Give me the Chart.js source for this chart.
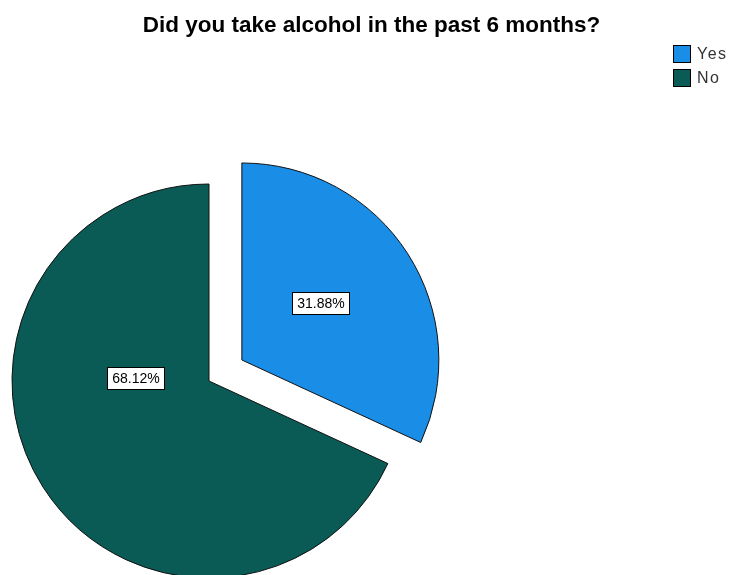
<!DOCTYPE html>
<html>
<head>
<meta charset="utf-8">
<title>Alcohol use</title>
<script src="https://cdn.jsdelivr.net/npm/chart.js@4/dist/chart.umd.min.js"></script>
<style>
  body { margin: 0; background: #fff; }
  #wrap { position: relative; width: 731px; height: 575px; }
</style>
</head>
<body>
<div id="wrap"><canvas id="pie"></canvas></div>
<script>
const chartTitle = 'Did you take alcohol in the past 6 months?';
const categories = ['Yes', 'No'];
const percents = [31.88, 68.12];
const sliceColors = ['#1a8de6', '#0a5a55'];

// how far each slice is pulled out from the centre (px)
const explode = [39, 0];
// value box spot per slice: degrees clockwise from 12 o'clock, fraction of the radius
const labelSpots = [{ angle: 54, dist: 0.49 }, { angle: 272, dist: 0.375 }];

const FONT = '"Liberation Sans", Arial, sans-serif';

// draw each arc ourselves so an exploded slice keeps its radius
const explodeSlices = {
    id: 'explodeSlices',
    beforeDatasetDraw(chart, args) {
        const ctx = chart.ctx;
        args.meta.data.forEach((arc, i) => {
            const mid = (arc.startAngle + arc.endAngle) / 2;
            ctx.save();
            ctx.translate(Math.cos(mid) * explode[i], Math.sin(mid) * explode[i]);
            arc.draw(ctx);
            ctx.restore();
        });
        return false;
    }
};

const valueBoxes = {
    id: 'valueBoxes',
    afterDraw(chart) {
        const ctx = chart.ctx;
        const meta = chart.getDatasetMeta(0);
        const total = percents.reduce((a, b) => a + b, 0);
        ctx.save();
        ctx.font = '14px ' + FONT;
        ctx.textAlign = 'center';
        ctx.textBaseline = 'middle';
        meta.data.forEach((arc, i) => {
            const mid = (arc.startAngle + arc.endAngle) / 2;
            const cx = arc.x + Math.cos(mid) * explode[i];
            const cy = arc.y + Math.sin(mid) * explode[i];
            const a = (labelSpots[i].angle - 90) * Math.PI / 180;
            const r = arc.outerRadius * labelSpots[i].dist;
            const x = Math.round(cx + Math.cos(a) * r);
            const y = Math.round(cy + Math.sin(a) * r);
            const text = (percents[i] / total * 100).toFixed(2) + '%';
            const w = Math.round(ctx.measureText(text).width + 10);
            const h = 22;
            const left = Math.round(x - w / 2), top = Math.round(y - h / 2);
            ctx.fillStyle = '#fff';
            ctx.fillRect(left, top, w, h);
            ctx.strokeStyle = '#000';
            ctx.lineWidth = 1;
            ctx.strokeRect(left + 0.5, top + 0.5, w, h);
            ctx.fillStyle = '#000';
            ctx.fillText(text, left + w / 2 + 0.5, top + h / 2 + 1);
        });
        ctx.restore();
    }
};

// title across the top and the key in the top right corner
const headerAndKey = {
    id: 'headerAndKey',
    afterDraw(chart) {
        const ctx = chart.ctx;
        ctx.save();
        ctx.fillStyle = '#000';
        ctx.font = 'bold 22.5px ' + FONT;
        ctx.textAlign = 'center';
        ctx.textBaseline = 'alphabetic';
        ctx.fillText(chartTitle, 371.5, 31.5);

        ctx.font = '16px ' + FONT;
        ctx.letterSpacing = '1.5px';
        ctx.textAlign = 'left';
        ctx.textBaseline = 'middle';
        categories.forEach((cat, i) => {
            const y = 45 + i * 24;
            ctx.fillStyle = sliceColors[i];
            ctx.fillRect(673, y, 17, 17);
            ctx.strokeStyle = '#000';
            ctx.lineWidth = 1;
            ctx.strokeRect(673.5, y + 0.5, 17, 17);
            ctx.fillStyle = '#333';
            ctx.fillText(cat, 697, y + 10);
        });
        ctx.restore();
    }
};

new Chart(document.getElementById('pie'), {
    type: 'pie',
    data: {
        labels: categories,
        datasets: [{
            data: percents,
            backgroundColor: sliceColors,
            borderColor: '#111',
            borderWidth: 1,
            clip: false
        }]
    },
    options: {
        responsive: true,
        maintainAspectRatio: false,
        animation: false,
        radius: 197,
        layout: { padding: { left: 0, right: 313, top: 187, bottom: 0 } },
        plugins: {
            legend: { display: false },
            title: { display: false },
            tooltip: { enabled: false }
        }
    },
    plugins: [explodeSlices, valueBoxes, headerAndKey]
});
</script>
</body>
</html>
